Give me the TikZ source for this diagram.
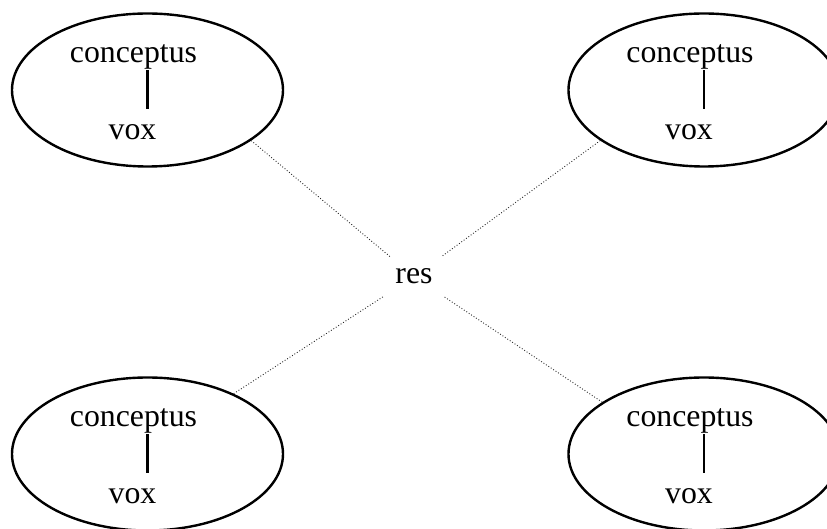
\documentclass[tikz,border=0pt]{standalone}
\usepackage{fontspec}
\setmainfont{Liberation Serif}
\usetikzlibrary{positioning,shapes.geometric}

\begin{document}
\begin{tikzpicture}[
        x=0.5pt, y=-0.5pt,
        sign/.style={draw, ellipse, line width=1.2pt, minimum width=135.5pt, minimum height=76.5pt, inner sep=0pt},
        word/.style={inner sep=0pt, font=\fontsize{15.9pt}{19pt}\selectfont, anchor=base},
        stem/.style={line width=1.3pt, shorten >=8pt},
        link/.style={densely dotted, line width=0.45pt, black!85}
    ]
        \useasboundingbox (0,0) rectangle (827,529);

        \node[sign] (tl) at (147.5,90) {};
        \node[word] (tlc) at ([shift={(-14,-27)}]tl.center) {conceptus};
        \node[word] (tlv) at ([shift={(-15,50)}]tl.center) {vox};
        \draw[stem] (tlc.south -| tl.center) -- (tlv.north -| tl.center);

        \node[sign] (tr) at (704,90) {};
        \node[word] (trc) at ([shift={(-14,-27)}]tr.center) {conceptus};
        \node[word] (trv) at ([shift={(-15,50)}]tr.center) {vox};
        \draw[stem] (trc.south -| tr.center) -- (trv.north -| tr.center);

        \node[sign] (bl) at (147.5,454) {};
        \node[word] (blc) at ([shift={(-14,-27)}]bl.center) {conceptus};
        \node[word] (blv) at ([shift={(-15,50)}]bl.center) {vox};
        \draw[stem] (blc.south -| bl.center) -- (blv.north -| bl.center);

        \node[sign] (br) at (704,454) {};
        \node[word] (brc) at ([shift={(-14,-27)}]br.center) {conceptus};
        \node[word] (brv) at ([shift={(-15,50)}]br.center) {vox};
        \draw[stem] (brc.south -| br.center) -- (brv.north -| br.center);

        \node[word, inner sep=6pt] (res) at (414,284) {res};

        \draw[link] (tl.-26) -- (res);
        \draw[link] (tr.-154) -- (res);
        \draw[link] (bl.35) -- (res);
        \draw[link] (br.153) -- (res);
    \end{tikzpicture}
\end{document}
